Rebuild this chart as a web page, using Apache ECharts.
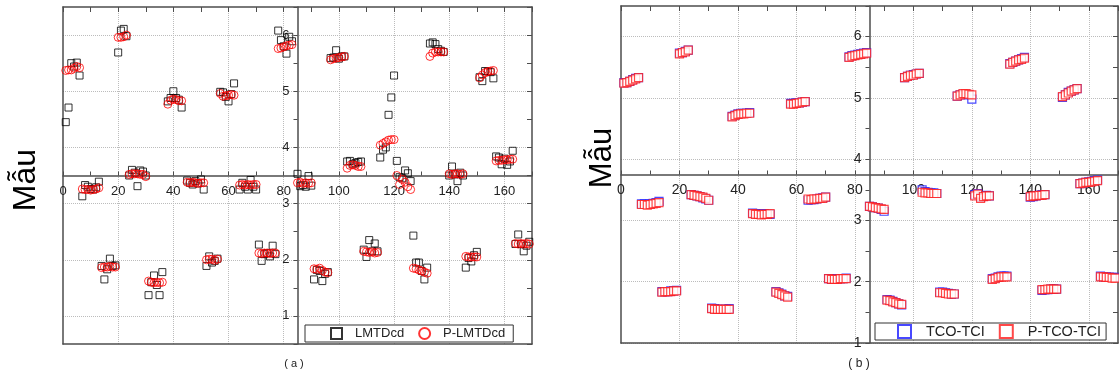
<!DOCTYPE html>
<html><head><meta charset="utf-8">
<script src="https://cdn.jsdelivr.net/npm/echarts@6/dist/echarts.min.js"></script>
<style>html,body{margin:0;padding:0;background:#fff}#c{width:1119px;height:376px}</style>
</head><body><div id="c"></div><script>
// ---- Panel (a) data: [sample, value]
const lmtd = [[1,4.45],[2,4.71],[3,5.50],[4,5.44],[5,5.51],[6,5.28],
[7,3.13],[8,3.33],[9,3.30],[10,3.26],[11,3.25],[12,3.29],[13,3.39],
[14,1.89],[15,1.65],[16,1.83],[17,2.02],[18,1.89],[19,1.90],
[20,5.69],[21,6.08],[22,6.11],[23,5.98],
[24,3.50],[25,3.60],[26,3.55],[27,3.31],[28,3.59],[29,3.57],[30,3.50],
[31,1.37],[32,1.60],[33,1.72],[34,1.55],[35,1.37],[36,1.78],
[38,4.82],[39,4.88],[40,5.00],[41,4.88],[42,4.85],[43,4.71],
[45,3.41],[46,3.37],[47,3.34],[48,3.40],[49,3.36],[50,3.43],[51,3.25],
[52,1.89],[53,2.06],[54,1.95],[55,1.98],[56,2.02],
[57,4.99],[58,4.98],[59,4.90],[60,4.82],[61,4.95],[62,5.14],
[64,3.25],[65,3.37],[66,3.30],[67,3.25],[68,3.42],[69,3.30],[70,3.25],
[71,2.27],[72,1.98],[73,2.10],[74,2.12],[75,2.06],[76,2.25],[77,2.10],
[78,6.08],[79,5.91],[80,5.80],[81,5.67],[82,5.97],[83,5.89],
[85,3.53],[86,3.31],[87,3.33],[88,3.30],[89,3.49],[90,3.32],
[91,1.65],[92,1.82],[93,1.80],[94,1.62],[95,1.75],[96,1.78],
[97,5.59],[98,5.60],[99,5.73],[100,5.58],[101,5.62],[102,5.62],
[103,3.75],[104,3.76],[105,3.70],[106,3.72],[107,3.74],[108,3.75],
[109,2.18],[110,2.05],[111,2.35],[112,2.15],[113,2.29],[114,2.15],
[115,3.82],[116,3.96],[117,4.00],[118,4.58],[119,4.89],[120,5.28],
[121,3.76],[122,3.47],[123,3.45],[124,3.59],[125,3.54],[126,3.40],
[127,2.43],[128,1.95],[129,1.95],[130,1.80],[131,1.65],[132,1.86],
[133,5.85],[134,5.87],[135,5.84],[136,5.75],[137,5.72],[138,5.70],
[140,3.50],[141,3.66],[142,3.52],[143,3.40],[144,3.55],[145,3.50],
[146,1.86],[147,2.03],[148,1.97],[149,2.08],[150,2.14],
[151,5.25],[152,5.18],[153,5.36],[154,5.35],[155,5.34],[156,5.23],
[157,3.84],[158,3.82],[159,3.70],[160,3.80],[161,3.69],[162,3.75],[163,3.94],
[164,2.28],[165,2.45],[166,2.28],[167,2.15],[168,2.25],[169,2.32]];

const pLmtd = [[1,5.37],[2,5.38],[3,5.38],[4,5.41],[5,5.44],[6,5.42],
[7,3.26],[8,3.25],[9,3.25],[10,3.24],[11,3.25],[12,3.26],[13,3.28],
[14,1.86],[15,1.87],[16,1.87],[17,1.88],[18,1.87],[19,1.87],
[20,5.96],[21,5.96],[22,5.97],[23,6.00],
[24,3.52],[25,3.53],[26,3.53],[27,3.53],[28,3.52],[29,3.52],[30,3.48],
[31,1.62],[32,1.60],[33,1.59],[34,1.60],[35,1.59],[36,1.60],
[38,4.77],[39,4.84],[40,4.86],[41,4.85],[42,4.83],[43,4.83],
[45,3.38],[46,3.37],[47,3.38],[48,3.37],[49,3.36],[50,3.37],[51,3.37],
[52,2.00],[53,2.01],[54,2.01],[55,1.99],[56,2.01],
[57,4.96],[58,4.91],[59,4.92],[60,4.93],[61,4.94],[62,4.93],
[64,3.33],[65,3.34],[66,3.33],[67,3.34],[68,3.33],[69,3.34],[70,3.34],
[71,2.12],[72,2.11],[73,2.12],[74,2.12],[75,2.11],[76,2.12],[77,2.12],
[78,5.76],[79,5.77],[80,5.79],[81,5.81],[82,5.82],[83,5.83],
[85,3.37],[86,3.38],[87,3.36],[88,3.37],[89,3.36],[90,3.37],
[91,1.84],[92,1.83],[93,1.85],[94,1.81],[95,1.78],[96,1.77],
[97,5.56],[98,5.58],[99,5.59],[100,5.60],[101,5.61],[102,5.62],
[103,3.63],[104,3.68],[105,3.69],[106,3.68],[107,3.66],[108,3.66],
[109,2.15],[110,2.14],[111,2.13],[112,2.14],[113,2.12],[114,2.13],
[115,4.04],[116,4.07],[117,4.10],[118,4.13],[119,4.14],[120,4.14],
[121,3.50],[122,3.34],[123,3.43],[124,3.38],[125,3.30],[126,3.25],
[127,1.85],[128,1.84],[129,1.82],[130,1.80],[131,1.78],[132,1.76],
[133,5.62],[134,5.68],[135,5.70],[136,5.70],[137,5.70],[138,5.70],
[140,3.53],[141,3.52],[142,3.53],[143,3.53],[144,3.52],[145,3.53],
[146,2.06],[147,2.05],[148,2.05],[149,2.05],[150,2.05],
[151,5.24],[152,5.29],[153,5.33],[154,5.35],[155,5.36],[156,5.37],
[157,3.76],[158,3.77],[159,3.77],[160,3.78],[161,3.78],[162,3.79],[163,3.79],
[164,2.29],[165,2.28],[166,2.29],[167,2.28],[168,2.29],[169,2.28]];

// ---- Panel (b) data: [sample, value]
const tcoTci = [[1,5.25],[2,5.25],[3,5.27],[4,5.30],[5,5.32],[6,5.33],
[7,3.27],[8,3.27],[9,3.26],[10,3.27],[11,3.28],[12,3.29],[13,3.31],
[14,1.84],[15,1.84],[16,1.84],[17,1.85],[18,1.85],[19,1.86],
[20,5.73],[21,5.74],[22,5.76],[23,5.78],
[24,3.42],[25,3.41],[26,3.40],[27,3.39],[28,3.37],[29,3.35],[30,3.33],
[31,1.57],[32,1.56],[33,1.55],[34,1.55],[35,1.55],[36,1.55],[37,1.56],
[38,4.70],[39,4.72],[40,4.74],[41,4.75],[42,4.75],[43,4.75],[44,4.76],
[45,3.12],[46,3.11],[47,3.10],[48,3.10],[49,3.11],[50,3.10],[51,3.10],
[53,1.84],[54,1.82],[55,1.80],[56,1.77],[57,1.76],
[58,4.91],[59,4.91],[60,4.92],[61,4.92],[62,4.93],[63,4.94],
[64,3.33],[65,3.34],[66,3.34],[67,3.35],[68,3.36],[69,3.37],[70,3.38],
[71,2.05],[72,2.04],[73,2.04],[74,2.05],[75,2.05],[76,2.05],[77,2.06],
[78,5.67],[79,5.69],[80,5.70],[81,5.71],[82,5.72],[83,5.73],[84,5.74],
[85,3.23],[86,3.22],[87,3.21],[88,3.20],[89,3.18],[90,3.15],
[91,1.71],[92,1.70],[93,1.68],[94,1.66],[95,1.64],[96,1.62],
[97,5.33],[98,5.35],[99,5.37],[100,5.38],[101,5.39],[102,5.40],
[103,3.50],[104,3.47],[105,3.46],[106,3.45],[107,3.45],[108,3.44],
[109,1.83],[110,1.83],[111,1.82],[112,1.81],[113,1.80],[114,1.80],
[115,5.03],[116,5.05],[117,5.06],[118,5.06],[119,5.05],[120,4.98],
[121,3.42],[122,3.44],[123,3.38],[124,3.40],[125,3.41],[126,3.40],
[127,2.05],[128,2.06],[129,2.08],[130,2.09],[131,2.09],[132,2.09],
[133,5.56],[134,5.58],[135,5.60],[136,5.62],[137,5.64],[138,5.66],
[140,3.38],[141,3.39],[142,3.40],[143,3.41],[144,3.42],[145,3.42],
[144,1.86],[145,1.87],[146,1.87],[147,1.88],[148,1.88],[149,1.88],
[151,5.01],[152,5.05],[153,5.09],[154,5.11],[155,5.13],[156,5.15],
[157,3.60],[158,3.61],[159,3.62],[160,3.63],[161,3.64],[162,3.65],[163,3.66],
[164,2.09],[165,2.08],[166,2.08],[167,2.07],[168,2.07],[169,2.07]];

const pTcoTci = [[1,5.24],[2,5.25],[3,5.27],[4,5.29],[5,5.31],[6,5.33],
[7,3.26],[8,3.26],[9,3.25],[10,3.26],[11,3.27],[12,3.28],[13,3.29],
[14,1.83],[15,1.84],[16,1.84],[17,1.84],[18,1.85],[19,1.85],
[20,5.72],[21,5.74],[22,5.75],[23,5.78],
[24,3.42],[25,3.41],[26,3.40],[27,3.39],[28,3.38],[29,3.36],[30,3.33],
[31,1.56],[32,1.55],[33,1.55],[34,1.55],[35,1.55],[36,1.55],[37,1.55],
[38,4.69],[39,4.71],[40,4.73],[41,4.74],[42,4.74],[43,4.75],[44,4.75],
[45,3.11],[46,3.10],[47,3.10],[48,3.09],[49,3.10],[50,3.10],[51,3.11],
[53,1.83],[54,1.81],[55,1.79],[56,1.77],[57,1.75],
[58,4.90],[59,4.90],[60,4.91],[61,4.92],[62,4.93],[63,4.94],
[64,3.35],[65,3.34],[66,3.35],[67,3.35],[68,3.36],[69,3.36],[70,3.38],
[71,2.05],[72,2.04],[73,2.04],[74,2.04],[75,2.05],[76,2.05],[77,2.05],
[78,5.66],[79,5.68],[80,5.69],[81,5.70],[82,5.71],[83,5.72],[84,5.73],
[85,3.23],[86,3.22],[87,3.21],[88,3.20],[89,3.19],[90,3.18],
[91,1.70],[92,1.69],[93,1.67],[94,1.66],[95,1.64],[96,1.63],
[97,5.33],[98,5.35],[99,5.37],[100,5.37],[101,5.39],[102,5.40],
[103,3.46],[104,3.45],[105,3.45],[106,3.44],[107,3.44],[108,3.44],
[109,1.82],[110,1.82],[111,1.81],[112,1.80],[113,1.80],[114,1.80],
[115,5.03],[116,5.05],[117,5.07],[118,5.07],[119,5.06],[120,5.05],
[121,3.40],[122,3.43],[123,3.36],[124,3.39],[125,3.40],[126,3.40],
[127,2.04],[128,2.05],[129,2.07],[130,2.08],[131,2.08],[132,2.08],
[133,5.55],[134,5.58],[135,5.60],[136,5.62],[137,5.63],[138,5.65],
[140,3.39],[141,3.40],[142,3.40],[143,3.41],[144,3.41],[145,3.42],
[144,1.87],[145,1.87],[146,1.88],[147,1.88],[148,1.88],[149,1.88],
[151,5.02],[152,5.05],[153,5.08],[154,5.11],[155,5.13],[156,5.15],
[157,3.60],[158,3.61],[159,3.62],[160,3.62],[161,3.63],[162,3.64],[163,3.65],
[164,2.08],[165,2.08],[166,2.07],[167,2.07],[168,2.06],[169,2.06]];

const seriesNamesA = ['LMTDcd', 'P-LMTDcd'];
const seriesNamesB = ['TCO-TCI', 'P-TCO-TCI'];
const yTitle = 'Mẫu';
const panelLabels = ['( a )', '( b )'];

const FONT = '"Liberation Sans", Arial, Helvetica, sans-serif';
const FRAME = '#4d4d4d';
const GRIDC = '#bcbcbc';
const TRANS = 'rgba(0,0,0,0)';

const grids = [
  {left: 63, top: 7, width: 469, height: 337},
  {left: 621, top: 6, width: 497, height: 337}
];

function makeAxes(gi, g, yMin, yMax, yColors, fs) {
  const lineS = {show: true, onZero: false, lineStyle: {color: FRAME, width: 1.5}};
  const xs = [
    {gridIndex: gi, type: 'value', min: 0, max: 170, interval: 10, position: 'bottom', offset: -g.height / 2,
     axisLine: lineS,
     axisTick: {show: true, inside: true, length: 4, lineStyle: {color: FRAME}},
     axisLabel: {show: true, margin: 9, color: '#222', fontSize: fs, fontFamily: FONT,
       formatter: v => (v % 20 === 0 && v < 170) ? String(v) : ''},
     splitLine: {show: false}},
    {gridIndex: gi, type: 'value', min: 0, max: 170, interval: 10, position: 'top',
     axisLine: lineS,
     axisTick: {show: true, inside: true, length: 5, lineStyle: {color: FRAME}},
     axisLabel: {show: false}, splitLine: {show: false}},
    {gridIndex: gi, type: 'value', min: 0, max: 170, interval: 20, position: 'bottom',
     axisLine: lineS, axisTick: {show: false}, axisLabel: {show: false},
     splitLine: {show: true, showMinLine: false, showMaxLine: false, lineStyle: {color: GRIDC, type: 'dotted', width: 1}}}
  ];
  const ys = [
    {gridIndex: gi, type: 'value', min: yMin, max: yMax, interval: 0.5, position: 'left', offset: -g.width / 2,
     axisLine: lineS,
     axisTick: {show: true, inside: false, length: 4, lineStyle: {color: FRAME}},
     axisLabel: {show: true, margin: 8, color: '#222', fontSize: fs, fontFamily: FONT,
       formatter: v => Number.isInteger(v) ? String(v) : ''},
     splitLine: {show: false}},
    {gridIndex: gi, type: 'value', min: yMin, max: yMax, interval: 0.5, position: 'right',
     axisLine: lineS,
     axisTick: {show: true, inside: true, length: 5, lineStyle: {color: FRAME}},
     axisLabel: {show: false}, splitLine: {show: false}},
    {gridIndex: gi, type: 'value', min: yMin, max: yMax, interval: 0.5, position: 'left',
     axisLine: lineS, axisTick: {show: false}, axisLabel: {show: false},
     splitLine: {show: true, lineStyle: {color: yColors, type: 'dotted', width: 1}}}
  ];
  return {xs, ys};
}

const axA = makeAxes(0, grids[0], 0.5, 6.5, [TRANS, GRIDC], 13);
const axB = makeAxes(1, grids[1], 1, 6.5, [GRIDC, TRANS], 14);

const option = {
  animation: false,
  backgroundColor: '#fff',
  grid: grids.map(g => Object.assign({outerBoundsMode: 'none', containLabel: false}, g)),
  xAxis: axA.xs.concat(axB.xs),
  yAxis: axA.ys.concat(axB.ys),
  legend: [
    {data: seriesNamesA, left: 305, top: 325, orient: 'horizontal',
     itemWidth: 11, itemHeight: 11, itemGap: 14, padding: [2, 8, 2, 25],
     borderColor: '#333', borderWidth: 1, backgroundColor: '#fff',
     textStyle: {fontSize: 13, color: '#222', fontFamily: FONT, padding: [0, 0, 0, 8]}},
    {data: seriesNamesB, left: 875, top: 323, orient: 'horizontal',
     itemWidth: 13, itemHeight: 13, itemGap: 14, padding: [1, 5, 1, 22],
     borderColor: '#333', borderWidth: 1, backgroundColor: '#fff',
     textStyle: {fontSize: 14.5, color: '#222', fontFamily: FONT, padding: [0, 0, 0, 10]}}
  ],
  series: [
    {name: seriesNamesA[0], type: 'scatter', xAxisIndex: 0, yAxisIndex: 0, data: lmtd,
     symbol: 'rect', symbolSize: 7,
     itemStyle: {color: TRANS, borderColor: '#000', borderWidth: 1}},
    {name: seriesNamesA[1], type: 'scatter', xAxisIndex: 0, yAxisIndex: 0, data: pLmtd,
     symbol: 'circle', symbolSize: 8,
     itemStyle: {color: TRANS, borderColor: '#ff0000', borderWidth: 1}},
    {name: seriesNamesB[0], type: 'scatter', xAxisIndex: 3, yAxisIndex: 3, data: tcoTci,
     symbol: 'rect', symbolSize: 8,
     itemStyle: {color: '#fff', borderColor: '#1a1aff', borderWidth: 1.2}},
    {name: seriesNamesB[1], type: 'scatter', xAxisIndex: 3, yAxisIndex: 3, data: pTcoTci,
     symbol: 'rect', symbolSize: 8,
     itemStyle: {color: '#fff', borderColor: '#ff1a1a', borderWidth: 1.2}}
  ],
  graphic: [
    {type: 'text', x: 26, y: 180, rotation: Math.PI / 2,
     style: {text: yTitle, x: 0, y: 0, fill: '#000', fontSize: 32, fontFamily: FONT, align: 'center', verticalAlign: 'middle'}},
    {type: 'text', x: 602, y: 158, rotation: Math.PI / 2,
     style: {text: yTitle, x: 0, y: 0, fill: '#000', fontSize: 31, fontFamily: FONT, align: 'center', verticalAlign: 'middle'}},
    {type: 'text', x: 294, y: 364,
     style: {text: panelLabels[0], x: 0, y: 0, fill: '#222', fontSize: 11, fontFamily: FONT, align: 'center', verticalAlign: 'middle'}},
    {type: 'text', x: 859, y: 364,
     style: {text: panelLabels[1], x: 0, y: 0, fill: '#222', fontSize: 12, fontFamily: FONT, align: 'center', verticalAlign: 'middle'}}
  ]
};
const chart = echarts.init(document.getElementById('c'), null, {renderer: 'canvas'});
chart.setOption(option);
</script></body></html>
